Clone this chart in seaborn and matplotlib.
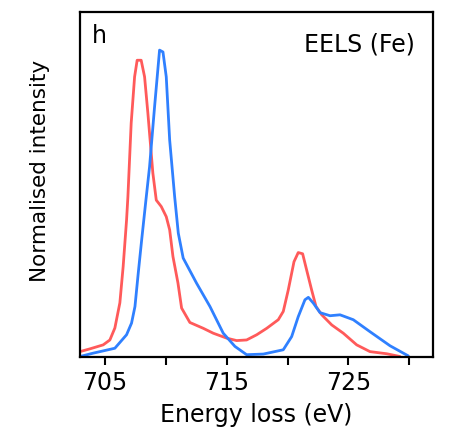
import numpy as np
import pandas as pd
import matplotlib
matplotlib.use("Agg")
import matplotlib.pyplot as plt
import seaborn as sns

red_x = [702.95, 703.77, 704.86, 705.41, 705.82, 706.23, 706.50, 706.78, 706.89, 707.16,
         707.44, 707.65, 707.98, 708.26, 708.53, 708.94, 709.22, 709.63, 710.04, 710.32,
         710.59, 711.00, 711.30, 711.98, 713.08, 713.90, 715.00, 715.82, 716.64, 717.47,
         718.29, 719.24, 719.65, 720.06, 720.53, 720.88, 721.24, 721.57, 721.98, 722.34,
         722.81, 723.63, 724.58, 725.68, 726.77, 728.15, 729.24]
red_y = [0.017, 0.026, 0.039, 0.055, 0.094, 0.176, 0.294, 0.446, 0.522, 0.762,
         0.913, 0.967, 0.967, 0.913, 0.795, 0.599, 0.511, 0.490, 0.457, 0.414,
         0.327, 0.241, 0.159, 0.112, 0.093, 0.077, 0.061, 0.053, 0.055, 0.072,
         0.093, 0.121, 0.148, 0.218, 0.310, 0.340, 0.336, 0.283, 0.218, 0.164,
         0.137, 0.104, 0.077, 0.039, 0.017, 0.010, 0.001]

blue_x = [702.95, 704.04, 705.82, 706.78, 707.19, 707.47, 707.74, 708.02, 708.37, 708.67,
          709.08, 709.49, 709.77, 710.04, 710.32, 710.73, 711.03, 711.43, 712.53, 713.63,
          714.72, 715.68, 716.64, 718.01, 719.65, 720.34, 720.88, 721.43, 721.71, 722.12,
          722.67, 723.49, 724.31, 725.40, 726.77, 728.42, 729.92]
blue_y = [0.001, 0.012, 0.028, 0.072, 0.110, 0.164, 0.273, 0.381, 0.511, 0.620,
          0.815, 1.000, 0.994, 0.913, 0.707, 0.522, 0.403, 0.322, 0.240, 0.164,
          0.077, 0.034, 0.007, 0.009, 0.023, 0.066, 0.131, 0.186, 0.194, 0.175,
          0.144, 0.134, 0.137, 0.121, 0.082, 0.036, 0.003]

tick_vals = [705, 710, 715, 720, 725, 730]
tick_labels = ["705", "", "715", "", "725", ""]

sns.set_theme(style="white")
plt.rcParams['font.family'] = ['DejaVu Sans']
plt.rcParams['text.color'] = 'black'
plt.rcParams['axes.labelcolor'] = 'black'
plt.rcParams['xtick.color'] = 'black'

fig = plt.figure(figsize=(4.49, 4.32), dpi=100)
ax = fig.add_axes([0.178, 0.174, 0.787, 0.798])

df_r = pd.DataFrame({"x": red_x, "y": red_y})
df_b = pd.DataFrame({"x": blue_x, "y": blue_y})
sns.lineplot(data=df_r, x="x", y="y", ax=ax, color="#ff5a5a", lw=2.0, sort=False)
sns.lineplot(data=df_b, x="x", y="y", ax=ax, color="#2f80ff", lw=2.0, sort=False)

ax.set_xlim(702.95, 731.97)
ax.set_ylim(0, 1.124)
ax.set_xticks(tick_vals)
ax.set_xticklabels(tick_labels, fontsize=17)
ax.set_yticks([])
ax.tick_params(axis="x", direction="out", length=6, width=1.5, colors="black", bottom=True, pad=4)
for s in ax.spines.values():
    s.set_color("black")
    s.set_linewidth(1.6)
ax.set_xlabel("Energy loss (eV)", fontsize=17, labelpad=6)
ax.set_ylabel("Normalised intensity", fontsize=15.5)
ax.yaxis.set_label_coords(-0.085, 0.54)
ax.text(0.035, 0.965, "h", transform=ax.transAxes, fontsize=17, va="top", ha="left")
ax.text(0.948, 0.94, "EELS (Fe)", transform=ax.transAxes, fontsize=17, va="top", ha="right")

fig.savefig("out.png", dpi=100)
